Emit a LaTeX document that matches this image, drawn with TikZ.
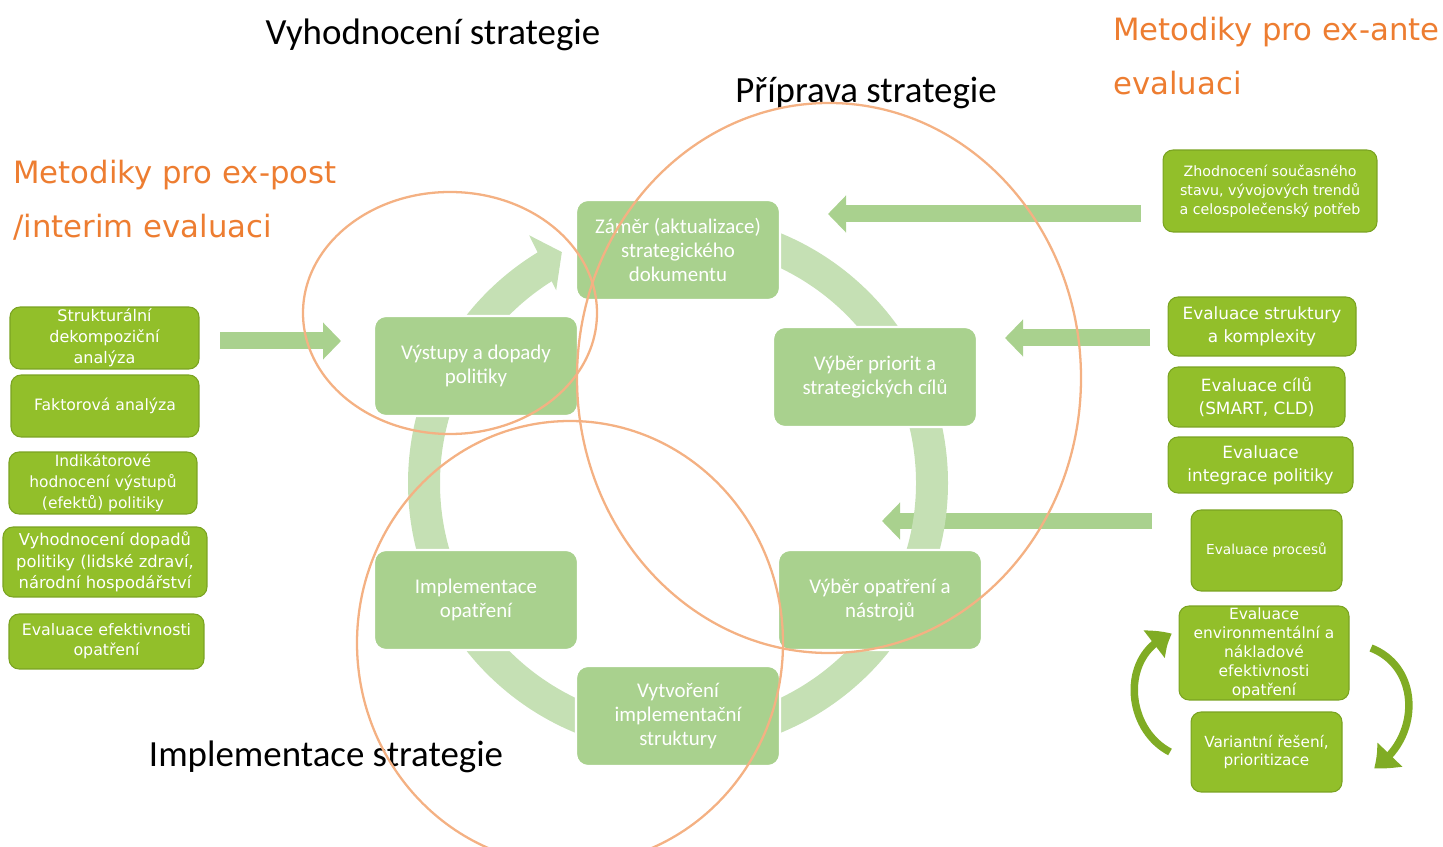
\documentclass[tikz,border=0pt]{standalone}
\usepackage{fontspec}
\setmainfont{Carlito}
\newfontfamily\dejavu{DejaVu Sans}
\usetikzlibrary{arrows.meta,calc,bending}
\definecolor{stagegreen}{RGB}{169,209,142}
\definecolor{ringgreen}{RGB}{197,224,180}
\definecolor{methgreen}{RGB}{146,191,42}
\definecolor{methedge}{RGB}{122,163,33}
\definecolor{loopgreen}{RGB}{128,172,36}
\definecolor{evalorange}{RGB}{244,177,131}
\definecolor{headorange}{RGB}{237,125,49}

\tikzset{
  stagebox/.style={rectangle, rounded corners=0.24cm, fill=stagegreen, draw=white,
    line width=1.2pt, minimum width=4.08cm, minimum height=2cm, inner sep=0pt,
    align=center, text=white, font=\fontsize{11.9}{13.8}\selectfont},
  methbox/.style={rectangle, rounded corners=0.2cm, fill=methgreen, draw=methedge,
    line width=0.6pt, inner sep=0pt, align=center, text=white},
  feedarrow/.style={draw=stagegreen, line width=0.34cm,
    -{Triangle[length=0.36cm,width=0.72cm]}},
  cyclering/.style={draw=ringgreen, line width=0.64cm},
  looparrow/.style={draw=loopgreen, line width=0.15cm,
    -{Triangle[length=0.42cm,width=0.66cm,bend]}},
  evalring/.style={draw=evalorange, line width=1.3pt},
  phasetitle/.style={font=\fontsize{21}{25}\selectfont, anchor=base, inner sep=0pt},
  methtitle/.style={font=\dejavu\fontsize{17.5}{30.6}\selectfont, text=headorange,
    align=left, anchor=west, inner sep=0pt}
}

\begin{document}
\begin{tikzpicture}[x=0.02cm,y=-0.02cm]%
  \useasboundingbox (0,0) rectangle (1443,847);
  \clip (0,0) rectangle (1443,847);

  % arrows from the methods
  \coordinate (a1s) at (220,341);  \coordinate (a1e) at (341,341);
  \coordinate (a2s) at (1141,214); \coordinate (a2e) at (828,214);
  \coordinate (a3s) at (1150,338); \coordinate (a3e) at (1005,338);
  \coordinate (a4s) at (1152,521); \coordinate (a4e) at (882,521);
  \draw[feedarrow] (a1s) -- (a1e);
  \draw[feedarrow] (a2s) -- (a2e);
  \draw[feedarrow] (a3s) -- (a3e);
  \draw[feedarrow] (a4s) -- (a4e);

  % cycle
  \coordinate (cyc) at (678,483);
  \draw[cyclering] ($(cyc)+(-90:254)$) arc[start angle=-90, end angle=238.8, radius=254];
  \fill[ringgreen] ($(cyc)+(239:289)$) -- ($(cyc)+(243.3:258.5)$)
    -- ($(cyc)+(237.7:228)$) -- cycle;

  \node[stagebox] (zamer) at (678,250) {Záměr (aktualizace)\\strategického\\dokumentu};
  \node[stagebox] (priority) at (875,377) {Výběr priorit a\\strategických cílů};
  \node[stagebox] (opatreni) at (880,600) {Výběr opatření a\\nástrojů};
  \node[stagebox] (struktura) at (678,716) {Vytvoření\\implementační\\struktury};
  \node[stagebox] (implem) at (476,600) {Implementace\\opatření};
  \node[stagebox] (vystupy) at (476,366) {Výstupy a dopady\\politiky};

  % ex-post / interim
  \node[methbox, minimum width=3.78cm, minimum height=1.24cm,
    font=\dejavu\fontsize{9.1}{11.8}\selectfont] (dekomp) at (104.5,338)
    {Strukturální\\dekompoziční\\analýza};
  \node[methbox, minimum width=3.76cm, minimum height=1.24cm,
    font=\dejavu\fontsize{8.9}{11.8}\selectfont] (faktor) at (105,406)
    {Faktorová analýza};
  \node[methbox, minimum width=3.76cm, minimum height=1.24cm,
    font=\dejavu\fontsize{8.8}{11.8}\selectfont] (indik) at (103,483)
    {Indikátorové\\hodnocení výstupů\\(efektů) politiky};
  \node[methbox, minimum width=4.08cm, minimum height=1.4cm,
    font=\dejavu\fontsize{9.3}{12.2}\selectfont] (dopady) at (105,562)
    {Vyhodnocení dopadů\\politiky (lidské zdraví,\\národní hospodářství};
  \node[methbox, minimum width=3.9cm, minimum height=1.1cm,
    font=\dejavu\fontsize{9}{11.3}\selectfont] (efekt) at (106.5,641.5)
    {Evaluace efektivnosti\\opatření};

  % ex-ante
  \node[methbox, minimum width=4.28cm, minimum height=1.64cm,
    font=\dejavu\fontsize{8.1}{10.9}\selectfont] (stav) at (1270,191)
    {Zhodnocení současného\\stavu, vývojových trendů\\a celospolečenský potřeb};
  \node[methbox, minimum width=3.76cm, minimum height=1.18cm,
    font=\dejavu\fontsize{9.6}{13}\selectfont] (komplex) at (1262,326.5)
    {Evaluace struktury\\a komplexity};
  \node[methbox, minimum width=3.54cm, minimum height=1.2cm,
    font=\dejavu\fontsize{9.6}{13}\selectfont] (cile) at (1256.5,397)
    {Evaluace cílů\\(SMART, CLD)};
  \node[methbox, minimum width=3.7cm, minimum height=1.12cm,
    font=\dejavu\fontsize{9.6}{13}\selectfont] (integ) at (1260.5,465)
    {Evaluace\\integrace politiky};
  \node[methbox, minimum width=3.02cm, minimum height=1.62cm,
    font=\dejavu\fontsize{7.8}{10.8}\selectfont] (procesy) at (1266.5,550.5)
    {Evaluace procesů};
  \node[methbox, minimum width=3.4cm, minimum height=1.88cm,
    font=\dejavu\fontsize{8.8}{10.8}\selectfont] (envir) at (1264,653)
    {Evaluace\\environmentální a\\nákladové\\efektivnosti\\opatření};
  \node[methbox, minimum width=3.02cm, minimum height=1.6cm,
    font=\dejavu\fontsize{8.7}{10.6}\selectfont] (varianty) at (1266.5,752)
    {Variantní řešení,\\prioritizace};

  \coordinate (lpa) at (1170,752); \coordinate (lpb) at (1172,634);
  \draw[looparrow] (lpa) .. controls (1124,728) and (1120,652) .. (lpb);
  \coordinate (lpc) at (1371,648); \coordinate (lpd) at (1374,768);
  \draw[looparrow] (lpc) .. controls (1422,668) and (1420,740) .. (lpd);

  % titles
  \node[phasetitle] (vyhod) at (433,45) {Vyhodnocení strategie};
  \node[phasetitle] (priprava) at (866,103) {Příprava strategie};
  \node[phasetitle] (implstrat) at (326,766) {Implementace strategie};
  \node[methtitle] (expost) at (13,200) {Metodiky pro ex-post\\/interim evaluaci};
  \node[methtitle] (exante) at (1113,56) {Metodiky pro ex-ante\\evaluaci};

  \draw[evalring] (450,313) ellipse [x radius=147, y radius=121];
  \draw[evalring] (829,378) ellipse [x radius=252, y radius=275];
  \draw[evalring] (570,643) ellipse [x radius=213, y radius=222];
\end{tikzpicture}
\end{document}
